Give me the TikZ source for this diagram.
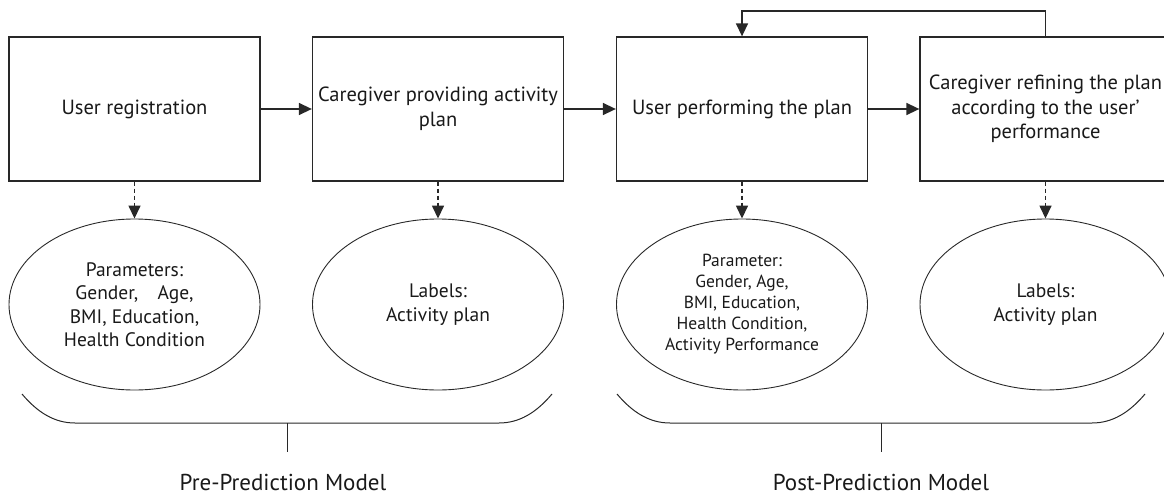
\documentclass[tikz,border=0pt]{standalone}
\usepackage{fontspec}
\setmainfont{PT Sans}
\usetikzlibrary{shapes.geometric, arrows.meta, positioning}
\definecolor{lineg}{RGB}{40, 40, 40}
\definecolor{textg}{RGB}{25, 25, 25}

\begin{document}
\begin{tikzpicture}[x=1pt, y=-1pt,
    stepbox/.style={draw=lineg, line width=1.3pt, minimum width=251pt, minimum height=144pt, inner sep=0pt, align=center, text=textg, font=\fontsize{20.5}{24.5}\selectfont},
    databubble/.style={draw=lineg, ellipse, line width=0.9pt, minimum width=251pt, minimum height=171pt, inner sep=0pt, align=center, text=textg, font=\fontsize{19.5}{23.5}\selectfont},
    flow/.style={draw=lineg, line width=1.5pt, -{Triangle[length=13pt, width=12pt]}},
    feeds/.style={draw=lineg, line width=1.5pt, dash pattern=on 4pt off 3pt, -{Triangle[length=13pt, width=12pt]}},
    brace/.style={draw=lineg, line width=1pt},
    modelname/.style={text=textg, font=\fontsize{23}{26}\selectfont}]
  \useasboundingbox (0,0) rectangle (1164,495);
  \clip (0,0) rectangle (1164,495);

  % Process steps
  \node[stepbox] (reg) at (134.5,109) {User registration};
  \node[stepbox] (provide) at (438,109) {Caregiver providing activity\\plan};
  \node[stepbox] (perform) at (742,109) {User performing the plan};
  \node[stepbox] (refine) at (1045.5,109) {Caregiver refining the plan\\according to the user’\\performance};

  % Data for each step
  \node[databubble] (regpar) at (134.5,304.5) {Parameters:\\Gender,\quad Age,\\BMI, Education,\\Health Condition};
  \node[databubble] (providelab) at (438,304.5) {Labels:\\Activity plan};
  \node[databubble, font=\fontsize{17.5}{21}\selectfont] (performpar) at (742,304.5) {Parameter:\\Gender, Age,\\BMI, Education,\\Health Condition,\\Activity Performance};
  \node[databubble] (refinelab) at (1045.5,304.5) {Labels:\\Activity plan};

  % Arrows between steps
  \draw[flow] (reg.east) -- (provide.west);
  \draw[flow] (provide.east) -- (perform.west);
  \draw[flow] (perform.east) -- (refine.west);
  \coordinate (loop) at (742,11);
  \draw[flow] (refine.north) |- (loop) -- (perform.north);

  \draw[feeds] (reg.south) -- (regpar.north);
  \draw[feeds] (provide.south) -- (providelab.north);
  \draw[feeds] (perform.south) -- (performpar.north);
  \draw[feeds] (refine.south) -- (refinelab.north);

  % Model brackets
  \draw[brace] (22,394) .. controls (38,413) and (55,423) .. (75,423) -- (499,423) .. controls (519,423) and (536,413) .. (552,394);
  \coordinate (pretop) at (287,423);
  \coordinate (prefoot) at (287,452);
  \draw[brace] (pretop) -- (prefoot);
  \node[modelname] (pre) at (283,482) {Pre-Prediction Model};

  \draw[brace] (617,394) .. controls (633,413) and (650,423) .. (670,423) -- (1092,423) .. controls (1112,423) and (1129,413) .. (1145,394);
  \coordinate (posttop) at (881,423);
  \coordinate (postfoot) at (881,452);
  \draw[brace] (posttop) -- (postfoot);
  \node[modelname] (post) at (881,482) {Post-Prediction Model};
\end{tikzpicture}
\end{document}
